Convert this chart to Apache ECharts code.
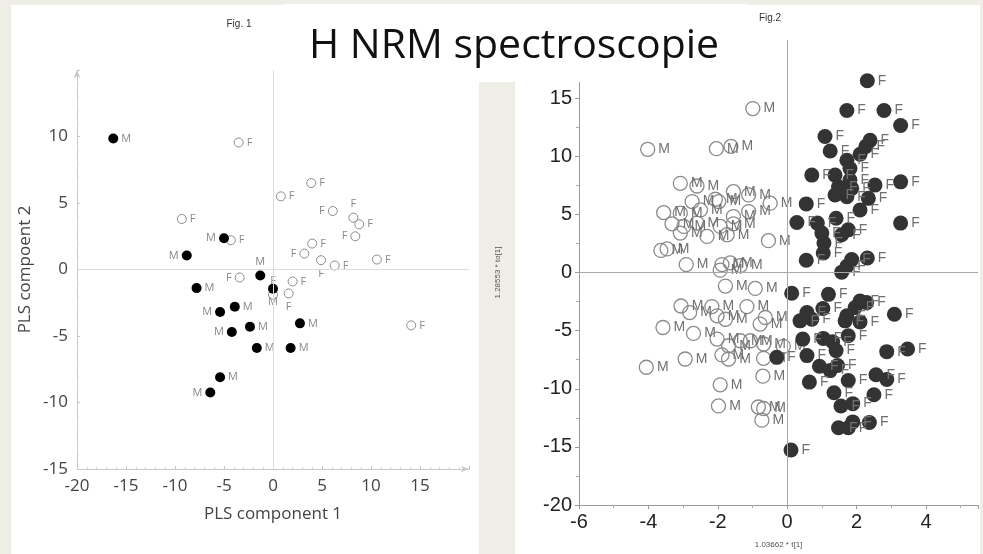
<!DOCTYPE html>
<html><head><meta charset="utf-8">
<script src="https://cdn.jsdelivr.net/npm/echarts@6/dist/echarts.min.js"></script>
<style>html,body{margin:0;padding:0;background:#eeede6;}#c{width:983px;height:554px;}</style>
</head><body><div id="c"></div>
<script>
const pageTitle = 'H NRM spectroscopie';
const fig1Caption = 'Fig. 1';
const fig2Caption = 'Fig.2';
const fig1XName = 'PLS component 1';
const fig1YName = 'PLS compoent 2';
const fig2XName = '1.03662 * t[1]';
const fig2YName = '1.28553 * to[1]';

// Fig. 1 : PLS scores (filled = M, open = F)
const fig1Male = [[-16.3,9.85],[-5.0,2.35],[-8.8,1.05],[-1.3,-0.45],[0,-1.45],[-7.8,-1.4],[-3.9,-2.8],[-5.4,-3.2],[-2.35,-4.3],[-4.2,-4.7],[2.75,-4.05],[-1.65,-5.9],[1.8,-5.9],[-5.4,-8.1],[-6.4,-9.25]];
const fig1Female = [[-3.5,9.55],[3.9,6.5],[0.8,5.5],[6.1,4.4],[8.2,3.9],[8.8,3.4],[-9.3,3.8],[-4.3,2.2],[8.4,2.5],[4.0,1.95],[3.2,1.2],[4.9,0.7],[6.3,0.3],[10.6,0.75],[-3.4,-0.6],[2.0,-0.9],[0,-1.9],[1.6,-1.8],[14.1,-4.2]];

// Fig. 2 : OPLS scores (open = M, filled = F)
const fig2Male = [[-0.99,14.1],[-4.02,10.6],[-2.04,10.65],[-1.62,10.85],[-3.08,7.67],[-2.6,7.44],[-1.55,6.95],[-1.11,6.67],[-0.49,5.96],[-2.07,6.3],[-2.74,6.1],[-1.97,6.1],[-3.56,5.15],[-3.08,5.1],[-2.5,5.38],[-1.55,4.81],[-1.11,5.24],[-3.32,4.19],[-2.98,3.96],[-2.6,4.25],[-3.08,3.39],[-2.31,3.1],[-1.93,3.96],[-1.73,3.25],[-1.55,4.19],[-0.54,2.74],[-3.64,1.9],[-3.46,2.03],[-2.91,0.68],[-1.88,0.68],[-1.64,0.83],[-1.35,0.6],[-1.93,0.2],
[-1.78,-1.17],[-0.92,-1.37],[-3.06,-2.88],[-2.81,-3.45],[-2.17,-2.93],[-2.02,-3.73],[-1.78,-4.02],[-1.16,-2.93],[-0.63,-3.87],[-0.78,-4.44],[-3.58,-4.73],[-2.7,-5.24],[-2.02,-5.73],[-1.69,-6.3],[-1.35,-5.87],[-1.06,-5.87],[-0.68,-6.15],[-0.11,-6.35],[-1.88,-7.09],[-1.69,-7.44],[-0.68,-7.38],[-2.94,-7.44],[-4.06,-8.15],[-0.7,-8.92],[-1.93,-9.66],[-1.98,-11.48],[-0.83,-11.57],[-0.68,-11.7],[-0.73,-12.7]];
const fig2Female = [[2.31,16.5],[1.72,13.93],[2.79,13.93],[3.27,12.65],[1.09,11.7],[1.24,10.45],[2.39,11.37],[2.27,10.85],[2.1,10.17],[1.72,9.66],[1.81,8.95],[0.71,8.38],[1.38,8.38],[1.81,7.95],[1.48,7.38],[1.86,7.24],[1.38,6.67],[1.72,6.52],[2.53,7.52],[3.27,7.8],[2.34,6.38],[2.1,5.38],[0.55,5.9],[0.28,4.3],[0.87,4.25],[1.41,4.67],[1.76,3.67],[1.57,3.25],[1.0,3.39],[1.06,2.54],[1.04,1.68],[3.27,4.25],[0.55,1.05],[2.31,1.25],[1.86,1.11],[1.72,0.54],[1.57,0.03],
[0.13,-1.79],[1.19,-1.88],[2.1,-2.45],[2.29,-2.59],[1.96,-3.02],[1.03,-3.1],[0.57,-3.45],[0.37,-4.16],[0.71,-4.02],[1.72,-3.73],[1.67,-4.16],[2.1,-4.25],[3.09,-3.59],[0.45,-5.73],[1.04,-5.67],[1.31,-5.96],[1.76,-5.44],[1.41,-6.72],[0.57,-7.15],[-0.3,-7.3],[2.87,-6.81],[3.47,-6.58],[0.93,-8.06],[1.24,-8.44],[1.45,-8.0],[0.64,-9.43],[1.76,-9.29],[2.56,-8.8],[2.87,-9.2],[1.35,-10.34],[2.5,-10.51],[1.55,-11.48],[1.89,-11.28],[1.48,-13.36],[1.89,-12.85],[1.76,-13.36],[2.37,-12.9],[0.11,-15.27]];

// label placement (style) for Fig. 1 points
const fig1MaleLabelSide = ['right','left','left','top','bottom','right','right','left','right','left','right','right','right','right','left'];
const fig1FemaleLabelSide = ['right','right','right','left','top','right','right','right','left','right','left','bottom','right','right','left','right','top','bottom','right'];

const chart = echarts.init(document.getElementById('c'));
const clear = 'rgba(0,0,0,0)';
function placed(pts, sides){ return pts.map((p,i)=>({value:p, label:{position:sides[i]}})); }

const leftAxisCommon = {
  axisLine:{show:true, onZero:false, lineStyle:{color:'#c8c8c8'}, symbol:['none','arrow'], symbolSize:[5,8]},
  axisTick:{show:true, inside:true, length:3, lineStyle:{color:'#c8c8c8'}},
  minorTick:{show:true, splitNumber:5, length:2, lineStyle:{color:'#d8d8d8'}},
  splitLine:{show:false},
  axisLabel:{color:'#444', fontSize:17, fontFamily:'Open Sans', showMaxLabel:false, margin:9},
  nameLocation:'middle',
  nameTextStyle:{color:'#444', fontSize:17, fontFamily:'Open Sans'}
};
const rightAxisCommon = {
  axisLine:{show:true, onZero:false, lineStyle:{color:'#9a9a9a'}},
  axisTick:{show:true, length:4, lineStyle:{color:'#9a9a9a'}},
  minorTick:{show:true, splitNumber:2, length:3, lineStyle:{color:'#aaa'}},
  splitLine:{show:false},
  axisLabel:{color:'#222', fontSize:20, fontFamily:'Liberation Sans', showMaxLabel:false, margin:7},
  nameLocation:'middle',
  nameTextStyle:{color:'#555', fontSize:8, fontFamily:'Liberation Sans'}
};

const option = {
  backgroundColor:'#eeede6',
  animation:false,
  graphic:[
    {type:'rect', z:-10, shape:{x:11,y:5,width:468,height:549}, style:{fill:'#fff'}},
    {type:'rect', z:-10, shape:{x:515,y:5,width:465,height:549}, style:{fill:'#fff'}},
    {type:'rect', z:-10, shape:{x:479,y:4,width:36,height:78}, style:{fill:'#fff'}},
    {type:'rect', z:100, shape:{x:283,y:4,width:464,height:78}, style:{fill:'#fff'}},
    {type:'text', z:101, x:514, y:46, style:{text:pageTitle, font:'41px "Open Sans"', fill:'#111', textAlign:'center', textVerticalAlign:'middle'}},
    {type:'text', z:101, x:239, y:24, style:{text:fig1Caption, font:'10px "Liberation Sans"', fill:'#333', textAlign:'center', textVerticalAlign:'middle'}},
    {type:'text', z:101, x:770, y:18, style:{text:fig2Caption, font:'10px "Liberation Sans"', fill:'#333', textAlign:'center', textVerticalAlign:'middle'}}
  ],
  grid:[
    {left:77, top:70, width:392, height:399},
    {left:579, top:40, width:399, height:467}
  ],
  xAxis:[
    Object.assign({type:'value', gridIndex:0, min:-20, max:20, interval:5, name:fig1XName, nameGap:37}, leftAxisCommon),
    Object.assign({type:'value', gridIndex:1, min:-6, max:5.5, interval:2, name:fig2XName, nameGap:36}, rightAxisCommon)
  ],
  yAxis:[
    Object.assign({type:'value', gridIndex:0, min:-15, max:15, interval:5, name:fig1YName, nameGap:43}, leftAxisCommon),
    Object.assign({type:'value', gridIndex:1, min:-20, max:20, interval:5, name:fig2YName, nameGap:77}, rightAxisCommon)
  ],
  series:[
    {type:'scatter', xAxisIndex:0, yAxisIndex:0, z:3, data:placed(fig1Female, fig1FemaleLabelSide), symbolSize:9,
     itemStyle:{color:clear, borderColor:'#8c8c8c', borderWidth:1, opacity:1},
     label:{show:true, formatter:'F', color:'#888', fontSize:11, fontFamily:'Open Sans', distance:3},
     markLine:{silent:true, symbol:'none', animation:false, label:{show:false}, lineStyle:{color:'#dcdcdc', width:1, type:'solid'}, data:[{xAxis:0},{yAxis:0}]}},
    {type:'scatter', xAxisIndex:0, yAxisIndex:0, z:4, data:placed(fig1Male, fig1MaleLabelSide), symbolSize:10,
     itemStyle:{color:'#000', opacity:1},
     label:{show:true, formatter:'M', color:'#888', fontSize:11, fontFamily:'Open Sans', distance:3}},
    {type:'scatter', xAxisIndex:1, yAxisIndex:1, z:3, data:fig2Male, symbolSize:14,
     itemStyle:{color:clear, borderColor:'#8a8a8a', borderWidth:1.3, opacity:1},
     label:{show:true, position:'right', formatter:'M', color:'#707070', fontSize:14, fontFamily:'Liberation Sans', distance:3},
     markLine:{silent:true, symbol:'none', animation:false, label:{show:false}, lineStyle:{color:'#a8a8a8', width:1, type:'solid'}, data:[{xAxis:0},{yAxis:0}]}},
    {type:'scatter', xAxisIndex:1, yAxisIndex:1, z:4, data:fig2Female, symbolSize:15,
     itemStyle:{color:'#333', opacity:1},
     label:{show:true, position:'right', formatter:'F', color:'#707070', fontSize:14, fontFamily:'Liberation Sans', distance:3}}
  ]
};
chart.setOption(option);
</script>
</body></html>
